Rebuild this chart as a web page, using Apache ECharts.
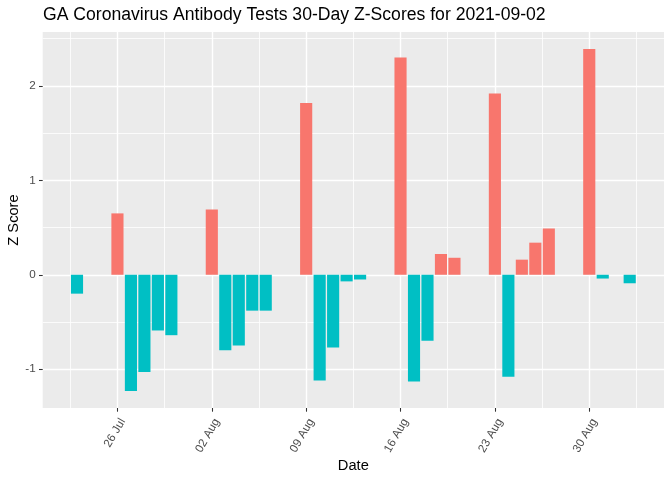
<!DOCTYPE html>
<html><head><meta charset="utf-8">
<script src="https://cdn.jsdelivr.net/npm/echarts@6/dist/echarts.min.js"></script>
<style>html,body{margin:0;padding:0;background:#fff}#c{width:672px;height:480px}</style>
</head><body><div id="c"></div>
<script>
// ---- data ----
const dates = ['2021-07-23','2021-07-26','2021-07-27','2021-07-28','2021-07-29','2021-07-30',
  '2021-08-02','2021-08-03','2021-08-04','2021-08-05','2021-08-06',
  '2021-08-09','2021-08-10','2021-08-11','2021-08-12','2021-08-13',
  '2021-08-16','2021-08-17','2021-08-18','2021-08-19','2021-08-20',
  '2021-08-23','2021-08-24','2021-08-25','2021-08-26','2021-08-27',
  '2021-08-30','2021-08-31','2021-09-01','2021-09-02'];
const zScores = [-0.20, 0.65, -1.23, -1.03, -0.59, -0.64,
  0.69, -0.80, -0.75, -0.38, -0.38,
  1.82, -1.12, -0.77, -0.07, -0.05,
  2.30, -1.13, -0.70, 0.22, 0.18,
  1.92, -1.08, 0.16, 0.34, 0.49,
  2.39, -0.04, 0.00, -0.09];
const xTickDates = ['2021-07-26','2021-08-02','2021-08-09','2021-08-16','2021-08-23','2021-08-30'];
const xMinorDates = ['2021-07-22','2021-07-29','2021-08-05','2021-08-12','2021-08-19','2021-08-26','2021-09-02'];
const yTicks = [-1, 0, 1, 2];
const yMinorTicks = [-0.5, 0.5, 1.5, 2.5];
const titleText = 'GA Coronavirus Antibody Tests 30-Day Z-Scores for 2021-09-02';

// ---- helpers ----
const DAY = 864e5;
const toDay = s => Date.parse(s + 'T00:00:00Z') / DAY;
const MONTHS = ['Jan','Feb','Mar','Apr','May','Jun','Jul','Aug','Sep','Oct','Nov','Dec'];
const fmtDay = v => { const d = new Date(Math.round(v) * DAY); const dd = d.getUTCDate(); return (dd < 10 ? '0' : '') + dd + ' ' + MONTHS[d.getUTCMonth()]; };

const xs = dates.map(toDay);
const seriesData = xs.map((x, i) => [x, zScores[i]]);
const xLo = Math.min(...xs) - 0.45, xHi = Math.max(...xs) + 0.45;
const xPad = (xHi - xLo) * 0.05;
const yLo = Math.min(0, ...zScores), yHi = Math.max(0, ...zScores);
const yPad = (yHi - yLo) * 0.05;
const xMin = xLo - xPad, xMax = xHi + xPad, yMin = yLo - yPad, yMax = yHi + yPad;

const FONT = '"Liberation Sans", Arial, sans-serif';
const chart = echarts.init(document.getElementById('c'), null, {renderer: 'canvas'});
chart.setOption({
  animation: false,
  backgroundColor: '#ffffff',
  title: {text: titleText, left: 43, top: 6, padding: 0,
    textStyle: {fontFamily: FONT, fontSize: 17.6, fontWeight: 'normal', color: '#000'}},
  grid: {left: 42.7, right: 8, top: 32, bottom: 72, containLabel: false, outerBoundsMode: 'none',
    show: true, backgroundColor: '#EBEBEB', borderWidth: 0},
  xAxis: [{
    type: 'value', position: 'bottom', min: xMin, max: xMax,
    name: 'Date', nameLocation: 'middle', nameGap: 50, nameMoveOverlap: false,
    nameTextStyle: {fontFamily: FONT, fontSize: 14.67, color: '#000'},
    axisLine: {show: false, onZero: false},
    axisTick: {show: true, customValues: xTickDates.map(toDay), length: 3.7, lineStyle: {color: '#333333', width: 1.07}},
    axisLabel: {customValues: xTickDates.map(toDay), formatter: fmtDay, rotate: 60, margin: 8.5,
      align: 'right', verticalAlign: 'top',
      fontFamily: FONT, fontSize: 11.7, color: '#4D4D4D'},
    splitLine: {show: true, lineStyle: {color: '#ffffff', width: 1.4}}
  }, {
    type: 'value', position: 'top', min: xMin, max: xMax,
    axisLine: {show: false, onZero: false}, axisLabel: {show: false},
    axisTick: {show: false, customValues: xMinorDates.map(d => toDay(d) + 0.5)},
    splitLine: {show: true, lineStyle: {color: '#ffffff', width: 0.8}}
  }],
  yAxis: [{
    type: 'value', position: 'left', min: yMin, max: yMax,
    name: 'Z Score', nameLocation: 'middle', nameGap: 21, nameRotate: 90, nameMoveOverlap: false,
    nameTextStyle: {fontFamily: FONT, fontSize: 14.67, color: '#000'},
    axisLine: {show: false, onZero: false},
    axisTick: {show: true, customValues: yTicks, length: 3.7, lineStyle: {color: '#333333', width: 1.07}},
    axisLabel: {customValues: yTicks, margin: 7, fontFamily: FONT, fontSize: 11.7, color: '#4D4D4D'},
    splitLine: {show: true, lineStyle: {color: '#ffffff', width: 1.4}}
  }, {
    type: 'value', position: 'right', min: yMin, max: yMax,
    axisLine: {show: false, onZero: false}, axisLabel: {show: false},
    axisTick: {show: false, customValues: yMinorTicks},
    splitLine: {show: true, lineStyle: {color: '#ffffff', width: 0.8}}
  }],
  series: [{
    type: 'bar', xAxisIndex: 0, yAxisIndex: 0,
    data: seriesData, barWidth: '90%',
    itemStyle: {color: p => p.value[1] > 0 ? '#F8766D' : '#00BFC4'}
  }]
});
</script></body></html>
